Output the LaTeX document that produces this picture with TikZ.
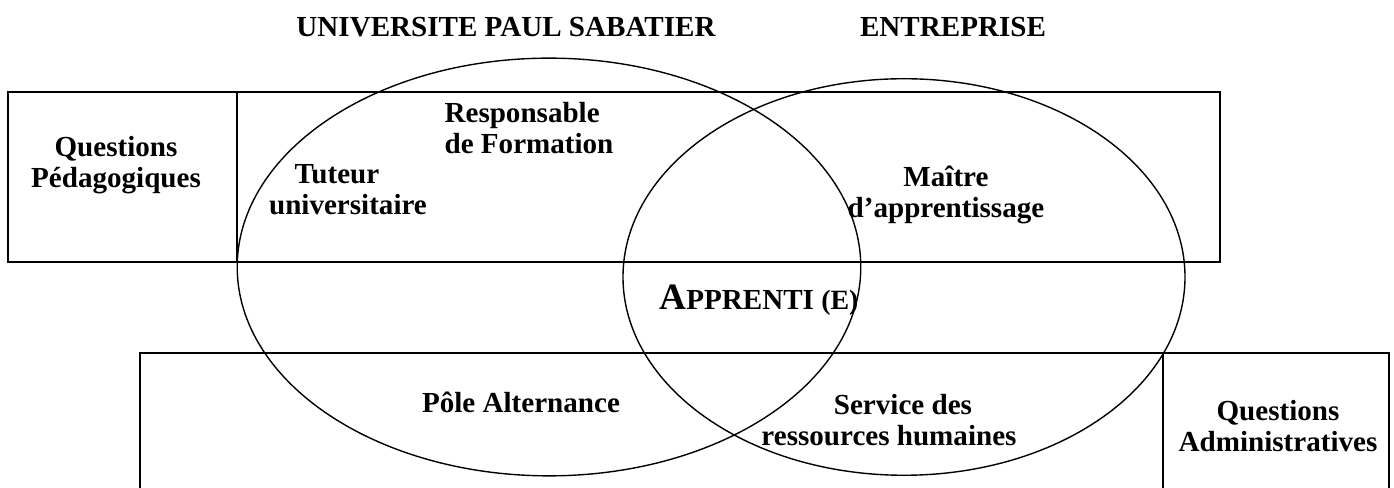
\documentclass[tikz,border=0pt]{standalone}
\usepackage{fontspec}
\setmainfont{Liberation Serif}
\usetikzlibrary{shapes.geometric}

\begin{document}
\begin{tikzpicture}[x=0.0151cm, y=-0.0151cm,
    cadre/.style={line width=0.9pt},
    bulle/.style={ellipse, draw, line width=0.6pt, inner sep=0pt},
    texte/.style={align=center, font=\fontsize{12.5pt}{13.3pt}\selectfont\bfseries}]
    \useasboundingbox (0,0) rectangle (1394,488);
    % Titres
    \node (titreU) [texte, anchor=base] at (506,37) {UNIVERSITE PAUL SABATIER};
    \node (titreE) [texte, anchor=base] at (953,37) {ENTREPRISE};
    % Cadres
    \draw[cadre] (8,92) rectangle (1220,262);
    \draw[cadre] (237,92) -- (237,262);
    \draw[cadre] (140,488) |- (1389,353) -- (1389,488);
    \draw[cadre] (1163,353) -- (1163,488);
    % Ellipses
    \node (univ) [bulle, minimum width=9.42cm, minimum height=6.31cm] at (549,267) {};
    \node (entr) [bulle, minimum width=8.49cm, minimum height=5.99cm] at (904,277) {};
    % Textes
    \node (peda) [texte] at (116,165) {Questions\\Pédagogiques};
    \node (resp) [texte, align=left] at (529,128) {Responsable\\de Formation};
    \node (tuteur) [texte, align=left] at (348,190) {\hspace*{11pt}Tuteur\\universitaire};
    \node (maitre) [texte] at (946,195) {Maître\\d’apprentissage};
    \node (apprenti) [texte, anchor=base] at (759,310) {{\fontsize{16pt}{18pt}\selectfont A}PPRENTI {\fontsize{12pt}{14pt}\selectfont (E)}};
    \node (pole) [texte, anchor=base] at (521,413) {Pôle Alternance};
    \node (rh) [texte] at (889,420) {\hspace*{12pt}Service des\\ressources humaines};
    \node (admin) [texte] at (1278,426) {Questions\\Administratives};
\end{tikzpicture}
\end{document}
